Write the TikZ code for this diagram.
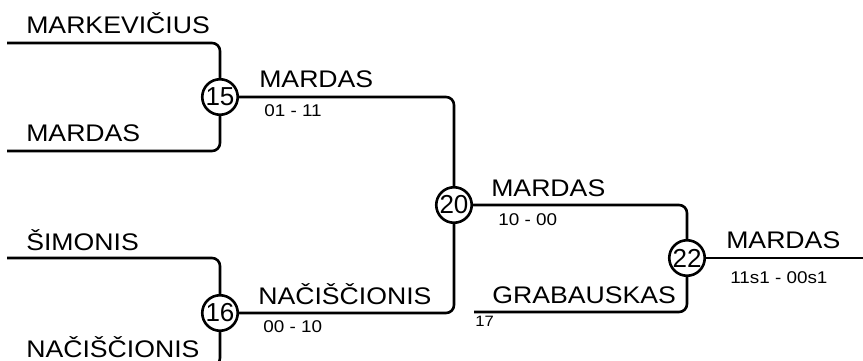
\documentclass[tikz,border=0pt]{standalone}
\usepackage{fontspec}
\setmainfont{Liberation Sans}
\usepackage{tikz}
\newcommand{\wtxt}[1]{\scalebox{1.11}[1]{#1}}

\begin{document}
\begin{tikzpicture}[x=1pt,y=-1pt,line width=2.6pt,
    match/.style={draw,circle,inner sep=0pt,minimum size=35.5pt,font=\fontsize{26}{30}\selectfont},
    player/.style={anchor=base west,inner sep=0pt,font=\fontsize{24}{28}\selectfont},
    score/.style={anchor=base west,inner sep=0pt,font=\fontsize{17}{20}\selectfont}]
        \useasboundingbox (0,0) rectangle (863,361);
        \def\rc{8pt};
        \node[match] (m15) at (220,97) {15};
        \node[match] (m16) at (220,313) {16};
        \node[match] (m20) at (454,205) {20};
        \node[match] (m22) at (687,258) {22};
        \coordinate (s1) at (7,43);
        \coordinate (s2) at (7,151);
        \coordinate (s3) at (7,258);
        \coordinate (s4) at (7,366);
        \coordinate (s5) at (474,312);
        \coordinate (fin) at (863,258);
        %first round%
        \draw[rounded corners=\rc] (s1) -| (m15);
        \draw[rounded corners=\rc] (s2) -| (m15);
        \draw[rounded corners=\rc] (s3) -| (m16);
        \draw[rounded corners=\rc] (s4) -| (m16);
        %second round%
        \draw[rounded corners=\rc] (m15) -| (m20);
        \draw[rounded corners=\rc] (m16) -| (m20);
        %final%
        \draw[rounded corners=\rc] (m20) -| (m22);
        \draw[rounded corners=\rc] (s5) -| (m22);
        \draw (m22) -- (fin);

  \node[player] (n1) at (25,34) {\wtxt{MARKEVIČIUS}};
  \node[player] (n2) at (25,142) {\wtxt{MARDAS}};
  \node[player] (n3) at (25,250) {\wtxt{ŠIMONIS}};
  \node[player] (n4) at (25,357) {\wtxt{NAČIŠČIONIS}};
  \node[player] (w15) at (258,88) {\wtxt{MARDAS}};
  \node[score] (r15) at (263,117) {\wtxt{01 - 11}};
  \node[player] (w16) at (257,304) {\wtxt{NAČIŠČIONIS}};
  \node[score] (r16) at (262,332) {\wtxt{00 - 10}};
  \node[player] (w20) at (490,196) {\wtxt{MARDAS}};
  \node[score] (r20) at (497,225) {\wtxt{10 - 00}};
  \node[player] (n5) at (491,303) {\wtxt{GRABAUSKAS}};
  \node[score,font=\fontsize{15}{18}\selectfont] (g17) at (474,326) {\wtxt{17}};
  \node[player] (w22) at (725,248) {\wtxt{MARDAS}};
  \node[score] (r22) at (729,283) {\wtxt{11s1 - 00s1}};
\end{tikzpicture}
\end{document}
